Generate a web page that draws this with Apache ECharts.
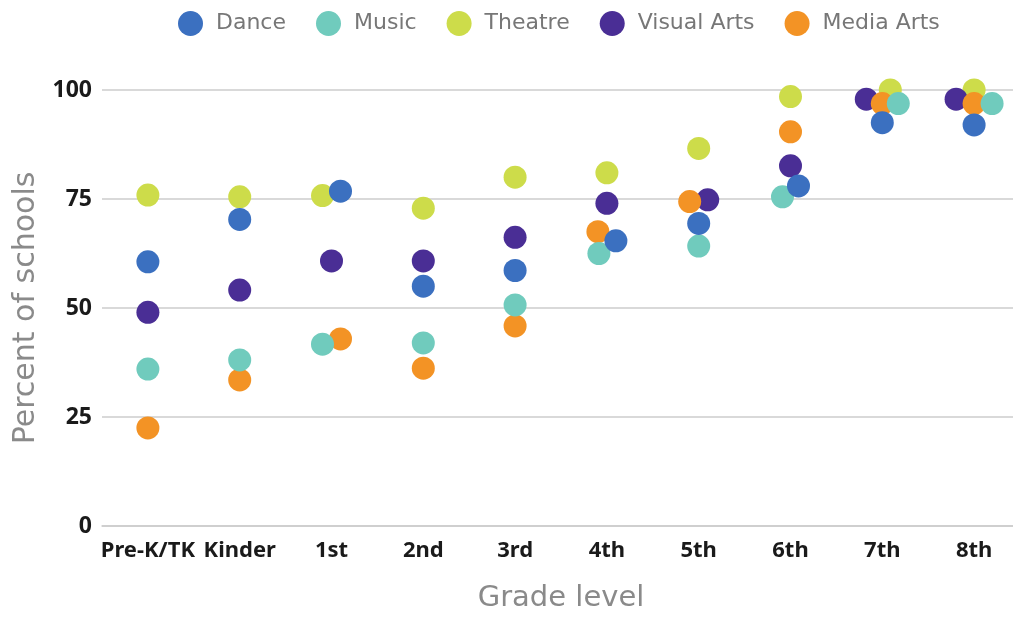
<!DOCTYPE html>
<html>
<head>
<meta charset="utf-8">
<script src="https://cdn.jsdelivr.net/npm/echarts@6/dist/echarts.min.js"></script>
<style>html,body{margin:0;padding:0;background:#fff;}#c{width:1013px;height:617px;}</style>
</head>
<body>
<div id="c"></div>
<script>
const grades = ['Pre-K/TK','Kinder','1st','2nd','3rd','4th','5th','6th','7th','8th'];
const yTicks = [0,25,50,75,100];
const dance  = [60.6, 70.3, 76.8, 55.0, 58.6, 65.4, 69.4, 78.0, 92.5, 92.0];
const music  = [36.0, 38.1, 41.7, 42.0, 50.7, 62.5, 64.2, 75.5, 96.9, 96.9];
const theatre= [75.9, 75.5, 75.8, 72.9, 80.0, 81.0, 86.6, 98.5, 100, 100];
const visual = [49.0, 54.1, 60.8, 60.8, 66.2, 74.0, 74.8, 82.6, 97.9, 97.9];
const media  = [22.5, 33.5, 42.9, 36.2, 45.9, 67.5, 74.4, 90.4, 96.9, 96.9];

// horizontal nudges (px) used in the original to avoid overlaps (styling only)
const danceShift  = [0,0,9,0,0,9,0,8,0,0];
const musicShift  = [0,0,-9,0,0,-8,0,-8,16,18];
const theatreShift= [0,0,-9,0,0,0,0,0,8,0];
const visualShift = [0,0,0,0,0,0,9,0,-16,-18];
const mediaShift  = [0,0,9,0,0,-9,-9,0,0,0];

function pts(vals, shift){
  return vals.map((v,i)=>({value:[grades[i], v], symbolOffset:[shift[i],0]}));
}
function ser(name, vals, shift, color, z){
  return {name, type:'scatter', data:pts(vals,shift), symbolSize:23, z:z,
    itemStyle:{color:color, opacity:1}, emphasis:{disabled:true}};
}
const chart = echarts.init(document.getElementById('c'), null, {renderer:'canvas'});
chart.setOption({
  animation:false,
  backgroundColor:'#ffffff',
  legend:{
    top:6, left:173, itemWidth:25, itemHeight:25, itemGap:30, icon:'circle',
    textStyle:{fontFamily:'DejaVu Sans', fontSize:22, color:'#777777', padding:[0,0,0,8]},
    data:['Dance','Music','Theatre','Visual Arts','Media Arts']
  },
  grid:{left:102, top:90, width:918, height:436, outerBoundsMode:'none', containLabel:false},
  xAxis:{
    type:'category', data:grades, boundaryGap:true,
    name:'Grade level', nameLocation:'middle', nameGap:58, nameMoveOverlap:false,
    nameTextStyle:{fontFamily:'DejaVu Sans', fontSize:29, color:'#8a8a8a'},
    axisLine:{show:true, lineStyle:{color:'#cccccc', width:1.5}},
    axisTick:{show:false},
    axisLabel:{margin:14, fontFamily:'"Noto Sans"', fontWeight:'bold', fontSize:22, color:'#1a1a1a', interval:0},
    splitLine:{show:false}
  },
  yAxis:{
    type:'value', min:0, max:100, interval:25,
    name:'Percent of schools', nameLocation:'middle', nameGap:61, nameMoveOverlap:false,
    nameTextStyle:{fontFamily:'DejaVu Sans', fontSize:30, color:'#8a8a8a'},
    axisLine:{show:false}, axisTick:{show:false},
    axisLabel:{margin:10, fontFamily:'"Noto Sans"', fontWeight:'bold', fontSize:23, color:'#1a1a1a',
      formatter:(v)=> yTicks.includes(v) ? String(v) : ''},
    splitLine:{show:true, lineStyle:{color:'#cccccc', width:1.5}}
  },
  series:[
    ser('Dance', dance, danceShift, '#3b70c0', 6),
    ser('Music', music, musicShift, '#70cbbd', 5),
    ser('Theatre', theatre, theatreShift, '#cddc4a', 2),
    ser('Visual Arts', visual, visualShift, '#4a2e95', 3),
    ser('Media Arts', media, mediaShift, '#f39325', 4)
  ]
});
</script>
</body>
</html>
